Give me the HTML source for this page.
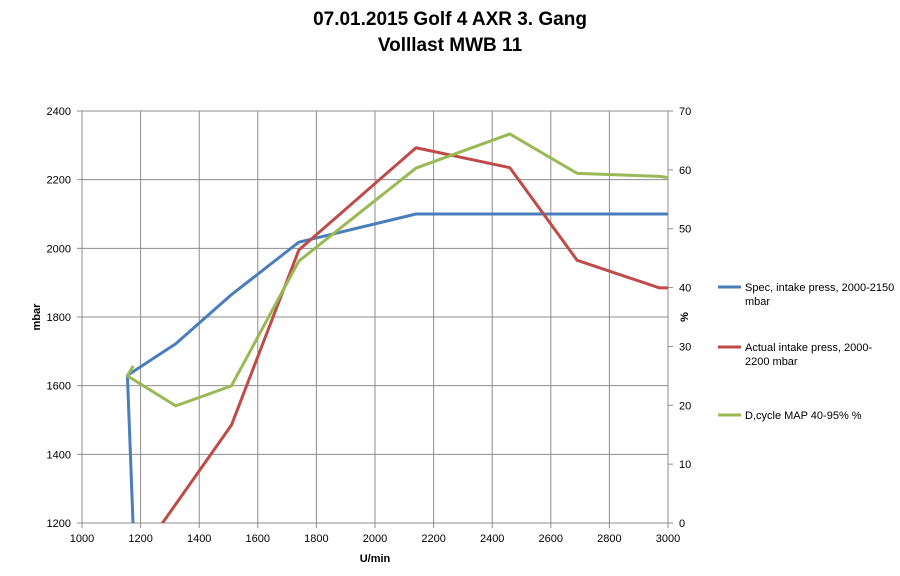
<!DOCTYPE html>
<html><head><meta charset="utf-8"><style>
body{margin:0;background:#fff;font-family:"Liberation Sans",sans-serif;}
svg text{font-family:"Liberation Sans",sans-serif;}
</style></head><body>
<svg id="c" width="900" height="571">
<text x="450" y="25" text-anchor="middle" font-size="19" font-weight="bold">07.01.2015  Golf 4 AXR 3. Gang</text>
<text x="450" y="51" text-anchor="middle" font-size="19" font-weight="bold">Volllast MWB 11</text>
<defs><clipPath id="pa"><rect x="82" y="111" width="586" height="412"/></clipPath></defs>
<g id="grid"></g><g id="axes"></g><g id="series" clip-path="url(#pa)"></g>
<text transform="translate(40,317) rotate(-90)" text-anchor="middle" font-size="11" font-weight="bold">mbar</text>
<text transform="translate(688,317) rotate(-90)" text-anchor="middle" font-size="11" font-weight="bold">%</text>
<text x="375" y="562" text-anchor="middle" font-size="11" font-weight="bold">U/min</text>
<g>
<line x1="718" y1="287" x2="741" y2="287" stroke="#4a7ebb" stroke-width="3"/>
<text x="745" y="291" font-size="11">Spec, intake press, 2000-2150</text>
<text x="745" y="305" font-size="11">mbar</text>
<line x1="718" y1="347" x2="741" y2="347" stroke="#be4b48" stroke-width="3"/>
<text x="745" y="351" font-size="11">Actual intake press, 2000-</text>
<text x="745" y="365" font-size="11">2200  mbar</text>
<line x1="718" y1="415" x2="741" y2="415" stroke="#98b954" stroke-width="3"/>
<text x="745" y="419" font-size="11">D,cycle MAP 40-95% %</text>
</g>
</svg>
<script>
const xTicks=[1000,1200,1400,1600,1800,2000,2200,2400,2600,2800,3000];
const yTicks=[1200,1400,1600,1800,2000,2200,2400];
const y2Ticks=[0,10,20,30,40,50,60,70];
const specX=[1175,1155,1320,1510,1740,2140,2460,2690,2970,3000];
const specY=[1180,1630,1722,1865,2018,2100,2100,2100,2100,2100];
const actX=[1250,1510,1740,2140,2460,2690,2970,3000];
const actY=[1170,1485,1995,2293,2235,1965,1885,1885];
const dcX=[1175,1155,1320,1510,1740,2140,2460,2690,2970,3000];
const dcY=[26.7,25,19.9,23.3,44.5,60.3,66.1,59.4,58.9,58.7];
const X=v=>82+(v-1000)*586/2000, Y=v=>523-(v-1200)*412/1200, Y2=v=>523-v*412/70;
const NS="http://www.w3.org/2000/svg";
function mk(p,t,a){const e=document.createElementNS(NS,t);for(const k in a)e.setAttribute(k,a[k]);document.getElementById(p).appendChild(e);return e;}
xTicks.forEach(v=>{
const l=mk('grid','line',{x1:X(v),x2:X(v),y1:111,y2:528,stroke:'#8c8c8c','stroke-width':1});


const t=mk('axes','text',{x:X(v),y:542,'text-anchor':'middle','font-size':11});t.textContent=v;


});
yTicks.forEach(v=>{
const l=mk('grid','line',{x1:77,x2:668,y1:Y(v),y2:Y(v),stroke:'#8c8c8c','stroke-width':1});


const t=mk('axes','text',{x:71,y:Y(v)+4,'text-anchor':'end','font-size':11});t.textContent=v;


});
y2Ticks.forEach(v=>{
const l=mk('axes','line',{x1:668,x2:673,y1:Y2(v),y2:Y2(v),stroke:'#8c8c8c'});


const t=mk('axes','text',{x:679,y:Y2(v)+4,'font-size':11});t.textContent=v;


});
function series(xs,ys,f,col,name){
const p=mk('series','polyline',{points:xs.map((x,i)=>X(x)+','+f(ys[i])).join(' '),fill:'none',stroke:col,'stroke-width':3,'stroke-linejoin':'round'});


}
series(specX,specY,Y,'#4a7ebb','spec-intake-line');
series(actX,actY,Y,'#be4b48','actual-intake-line');
series(dcX,dcY,Y2,'#98b954','dcycle-map-line');
</script>
</body></html>
